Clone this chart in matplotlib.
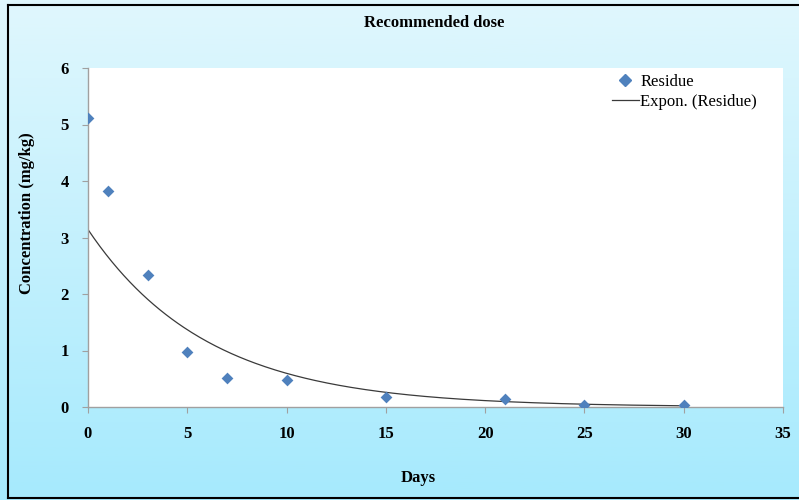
import numpy as np
import matplotlib
matplotlib.use("Agg")
import matplotlib.pyplot as plt
from matplotlib.lines import Line2D

days = [0, 1, 3, 5, 7, 10, 15, 21, 25, 30]
residue = [5.12, 3.83, 2.33, 0.97, 0.52, 0.48, 0.18, 0.14, 0.04, 0.03]
x_ticks = [0, 5, 10, 15, 20, 25, 30, 35]
y_ticks = [0, 1, 2, 3, 4, 5, 6]

plt.rcParams['font.family'] = ['Liberation Serif', 'DejaVu Serif']

fig = plt.figure(figsize=(7.99, 5.0), dpi=100)

# background gradient
bg = fig.add_axes([0, 0, 1, 1], zorder=-10)
top = np.array([0xE0, 0xF7, 0xFD]) / 255
bot = np.array([0xA6, 0xEA, 0xFD]) / 255
t = np.linspace(0, 1, 256)[:, None]
grad = top[None, :] * (1 - t) + bot[None, :] * t
bg.imshow(grad[:, None, :], aspect='auto', extent=[0, 1, 0, 1], origin='upper')
bg.set_xlim(0, 1)
bg.set_ylim(0, 1)
bg.axis('off')
# border
bg.plot([8/799, 8/799], [1 - 498/500, 1 - 5/500], color='black', lw=1.5)
bg.plot([8/799, 1], [1 - 5/500, 1 - 5/500], color='black', lw=1.5)
bg.plot([8/799, 1], [1 - 498/500, 1 - 498/500], color='black', lw=1.5)

ax = fig.add_axes([88/799, 1 - 407/500, (783 - 88)/799, (407 - 68)/500])
ax.set_facecolor('white')

# exponential trendline (least squares on log y, as in Excel)
xs = np.array(days, dtype=float)
ys = np.array(residue, dtype=float)
b, a = np.polyfit(xs, np.log(ys), 1)
xf = np.linspace(0, 30, 300)
ax.plot(xf, np.exp(a) * np.exp(b * xf), color='#3A3A3A', lw=0.9, zorder=2)

ax.scatter(days, residue, marker='D', s=36, color='#4F81BD', zorder=3, linewidths=0)

ax.set_xlim(0, 35)
ax.set_ylim(0, 6)
ax.set_xticks(x_ticks)
ax.set_yticks(y_ticks)
for s in ['top', 'right']:
    ax.spines[s].set_visible(False)
for s in ['left', 'bottom']:
    ax.spines[s].set_color('#A0A0A0')
    ax.spines[s].set_linewidth(1.0)
ax.tick_params(axis='both', direction='out', length=4, color='#A0A0A0',
               labelsize=12)
for lab in ax.get_xticklabels() + ax.get_yticklabels():
    lab.set_fontweight('bold')
ax.tick_params(axis='x', pad=10)
ax.tick_params(axis='y', pad=10)

fig.text(434/799, 1 - 23/500, 'Recommended dose', ha='center', va='center',
         fontsize=12, fontweight='bold')
fig.text(27/799, 1 - 213/500, 'Concentration (mg/kg)', ha='center', va='center',
         rotation=90, fontsize=12, fontweight='bold')
fig.text(418/799, 1 - 478/500, 'Days', ha='center', va='center',
         fontsize=12, fontweight='bold')

handles = [Line2D([], [], marker='D', color='#4F81BD', ls='none', markersize=6),
           Line2D([], [], color='#3A3A3A', lw=0.9)]
leg = fig.legend(handles, ['Residue', 'Expon. (Residue)'], loc='upper left',
                 bbox_to_anchor=(612/799, 1 - 74/500), bbox_transform=fig.transFigure,
                 frameon=False, fontsize=12, handlelength=1.6, handletextpad=0.1,
                 labelspacing=0.25, borderpad=0, borderaxespad=0)

fig.savefig('out.png', dpi=100)
